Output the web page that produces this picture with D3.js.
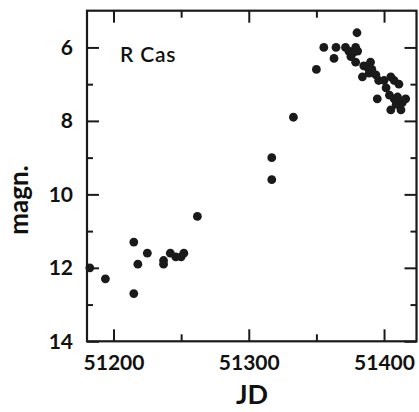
<!DOCTYPE html>
<html>
<head>
<meta charset="utf-8">
<script src="https://cdn.jsdelivr.net/npm/d3@7"></script>
<style>
  body { margin: 0; background: #fff; }
  svg text { font-family: Lato, "Liberation Sans", sans-serif; fill: #111; }
</style>
</head>
<body>
<svg id="chart" width="419" height="412"></svg>
<script>
// R Cas light curve
const jd = [
  51182.5, 51194, 51215, 51215, 51218, 51225, 51237, 51237, 51242, 51246,
  51250, 51252, 51262, 51317, 51317, 51333, 51350, 51355.5, 51363, 51364.5,
  51371.5, 51374, 51375.5, 51377, 51379, 51380.5, 51379, 51380, 51384, 51385,
  51388, 51389, 51390, 51391, 51394, 51396, 51395, 51400, 51401.5, 51404,
  51405, 51405, 51407.5, 51407.5, 51409, 51410, 51411, 51412.5, 51413.5, 51416
];
const magn = [
  12.0, 12.3, 11.3, 12.7, 11.9, 11.6, 11.8, 11.9, 11.6, 11.7,
  11.7, 11.6, 10.6, 9.0, 9.6, 7.9, 6.6, 6.0, 6.3, 6.0,
  6.0, 6.1, 6.25, 6.15, 6.0, 6.1, 6.4, 5.6, 6.8, 6.5,
  6.55, 6.7, 6.4, 6.6, 6.75, 6.9, 7.4, 6.9, 7.1, 7.3,
  6.8, 7.7, 6.9, 7.4, 7.55, 7.35, 7.0, 7.7, 7.5, 7.4
];
const xMajor = [51200, 51300, 51400];
const xMinor = [51250, 51350];
const yMajor = [6, 8, 10, 12, 14];
const yMinor = [7, 9, 11, 13];

const svg = d3.select("#chart");
const margin = { left: 87, right: 2.5, top: 10.7, bottom: 70.7 };
const width = 419, height = 412;

const x = d3.scaleLinear().domain([51180.4, 51424]).range([margin.left, width - margin.right]);
const y = d3.scaleLinear().domain([5, 14]).range([margin.top, height - margin.bottom]);

const x0 = margin.left, x1 = width - margin.right;
const y0 = margin.top, y1 = height - margin.bottom;

function styleAxis(g) {
  g.select(".domain").remove();
  g.selectAll(".tick line").attr("stroke", "#1a1a1a").attr("stroke-width", 2);
  g.selectAll(".tick text")
    .attr("font-size", "21px")
    .attr("font-weight", "bold")
    .attr("font-family", "Lato, sans-serif")
    .attr("fill", "#111");
}

// bottom
svg.append("g").attr("transform", `translate(0,${y1})`)
  .call(d3.axisBottom(x).tickValues(xMajor).tickSize(-12).tickPadding(14).tickFormat(d3.format("d")))
  .call(styleAxis);
svg.append("g").attr("transform", `translate(0,${y1})`)
  .call(d3.axisBottom(x).tickValues(xMinor).tickSize(-7).tickFormat(""))
  .call(styleAxis);
// top
svg.append("g").attr("transform", `translate(0,${y0})`)
  .call(d3.axisTop(x).tickValues(xMajor).tickSize(-12).tickFormat(""))
  .call(styleAxis);
svg.append("g").attr("transform", `translate(0,${y0})`)
  .call(d3.axisTop(x).tickValues(xMinor).tickSize(-7).tickFormat(""))
  .call(styleAxis);
// left
svg.append("g").attr("transform", `translate(${x0},0)`)
  .call(d3.axisLeft(y).tickValues(yMajor).tickSize(-12).tickPadding(14))
  .call(styleAxis);
svg.append("g").attr("transform", `translate(${x0},0)`)
  .call(d3.axisLeft(y).tickValues(yMinor).tickSize(-6).tickFormat(""))
  .call(styleAxis);
// right
svg.append("g").attr("transform", `translate(${x1},0)`)
  .call(d3.axisRight(y).tickValues(yMajor).tickSize(-12).tickFormat(""))
  .call(styleAxis);
svg.append("g").attr("transform", `translate(${x1},0)`)
  .call(d3.axisRight(y).tickValues(yMinor).tickSize(-6).tickFormat(""))
  .call(styleAxis);

// frame
svg.append("rect")
  .attr("x", x0).attr("y", y0)
  .attr("width", x1 - x0).attr("height", y1 - y0)
  .attr("fill", "none").attr("stroke", "#1a1a1a").attr("stroke-width", 2.2);

// points
svg.append("g").selectAll("circle")
  .data(jd.map((d, i) => ({ jd: d, m: magn[i] })))
  .join("circle")
  .attr("cx", d => x(d.jd))
  .attr("cy", d => y(d.m))
  .attr("r", 4.4)
  .attr("fill", "#1a1a1a");

// labels
svg.append("text")
  .attr("x", 120).attr("y", 62)
  .attr("font-size", "21px")
  .attr("font-weight", "600")
  .attr("letter-spacing", "0.8px")
  .text("R Cas");

svg.append("text")
  .attr("transform", `translate(28,200) rotate(-90)`)
  .attr("text-anchor", "middle")
  .attr("font-size", "26px")
  .attr("font-weight", "bold")
  .text("magn.");

svg.append("text")
  .attr("x", 252).attr("y", 404)
  .attr("text-anchor", "middle")
  .attr("font-size", "27px")
  .attr("font-weight", "bold")
  .text("JD");
</script>
</body>
</html>
